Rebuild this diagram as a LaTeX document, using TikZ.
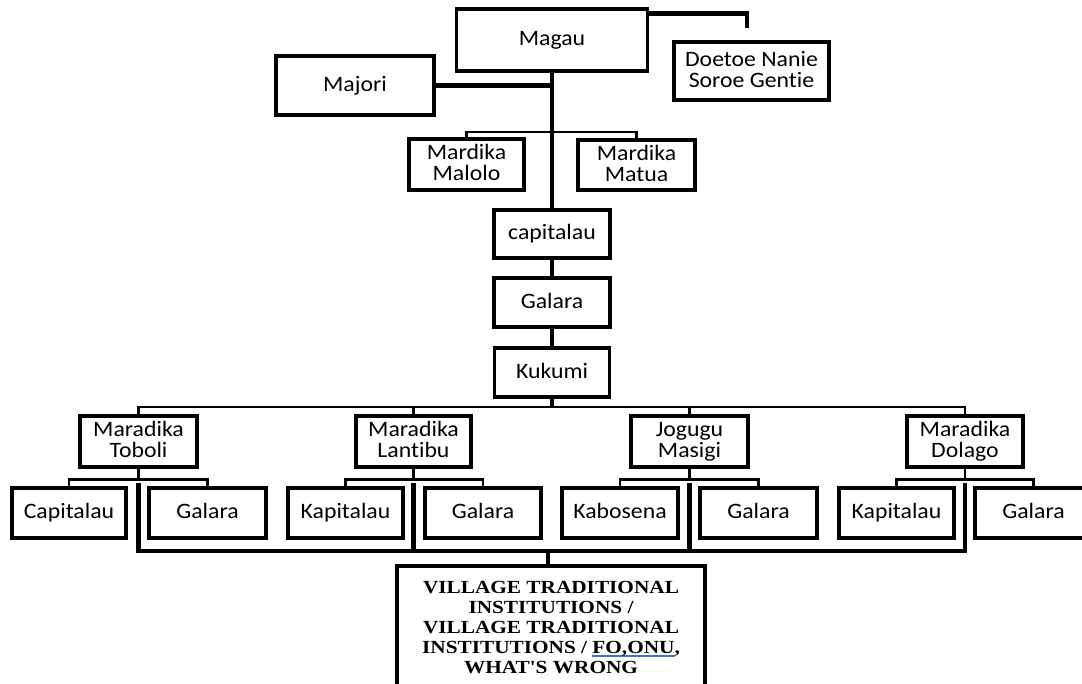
\documentclass[tikz,border=0pt]{standalone}
\usepackage{fontspec}
\setmainfont{Carlito}
\newfontfamily\boxfamily[FakeStretch=1.08,Ligatures=NoCommon]{Carlito}
\newfontfamily\villfamily[FakeStretch=1.15]{Liberation Serif}
\definecolor{ulblue}{RGB}{70,110,200}
\newcommand{\blueul}[1]{\setbox0\hbox{#1}\rlap{\color{ulblue}\rule[-3pt]{\wd0}{1.3pt}}\box0}
\tikzset{
  box/.style 2 args={draw, line width=3.5pt, inner sep=0pt, align=center,
    minimum width=#1pt, minimum height=#2pt,
    font=\boxfamily\fontsize{22}{21}\selectfont,
    execute at begin node={\vphantom{Ag}},
    execute at end node={\vphantom{g}}},
  thinline/.style={line width=2.6pt},
  midline/.style={line width=3.6pt},
  thickline/.style={line width=4.6pt},
}
\begin{document}
\begin{tikzpicture}[x=1pt,y=-1pt]
\useasboundingbox (0,0) rectangle (1082,683);
\clip (0,0) rectangle (1082,683);
% top
\node[box={191}{62}] (magau) at (552,40) {Magau};
\node[box={155}{58}] (doetoe) at (751.5,71) {Doetoe Nanie\\Soroe Gentie};
\node[box={158}{59}] (majori) at (355,85.5) {Majori};
\node[box={115}{51}] (malolo) at (466.5,164.5) {Mardika\\Malolo};
\node[box={117}{50}] (matua) at (636.5,165) {Mardika\\Matua};
\node[box={116}{48}] (capitalau) at (552,234) {capitalau};
\node[box={116}{49}] (galara) at (552,302.5) {Galara};
\node[box={115}{49}] (kukumi) at (552,372.5) {Kukumi};
% level 2
\node[box={117}{51}] (toboli) at (138.5,441.5) {Maradika\\Toboli};
\node[box={115}{51}] (lantibu) at (413.5,441.5) {Maradika\\Lantibu};
\node[box={117}{51}] (jogugu) at (689.5,441.5) {Jogugu\\Masigi};
\node[box={116}{51}] (dolago) at (965,441.5) {Maradika\\Dolago};
% level 3
\node[box={114}{50}] (capT) at (69,513) {Capitalau};
\node[box={117}{50}] (galT) at (207.5,513) {Galara};
\node[box={115}{50}] (kapL) at (345.5,513) {Kapitalau};
\node[box={116}{50}] (galL) at (483,513) {Galara};
\node[box={116}{50}] (kabM) at (620,513) {Kabosena};
\node[box={117}{50}] (galM) at (758.5,513) {Galara};
\node[box={115}{50}] (kapD) at (896.5,513) {Kapitalau};
\node[box={117}{50}] (galD) at (1033.5,513) {Galara};
% bottom
\node[draw, line width=3.5pt, inner sep=0pt, minimum width=308pt, minimum height=124pt,
  anchor=north, align=center, font=\villfamily\bfseries\fontsize{18.5}{20}\selectfont]
  (village) at (551,564) {VILLAGE TRADITIONAL\\INSTITUTIONS /\\VILLAGE TRADITIONAL\\INSTITUTIONS / \blueul{FO,ONU},\\WHAT'S WRONG};
% coordinates
\coordinate (dtend) at (747,28);
\coordinate (mbus) at (552,132);
\coordinate (lbus) at (552,407);
\coordinate (bbus) at (548,551);
% top connectors
\draw[thickline] ([yshift=-6pt]magau.north east) -| (dtend);
\draw[thickline] (majori.east) -- (majori.east -| magau.south);
\draw[thickline] (magau.south) -- (capitalau.north);
\draw[thinline] (malolo.north) |- (mbus) -| (matua.north);
\draw[midline] (capitalau.south) -- (galara.north);
\draw[midline] (galara.south) -- (kukumi.north);
\draw[midline] (kukumi.south) -- (lbus);
% level bus
\draw[thinline] (toboli.north) |- (lbus) -| (dolago.north);
\draw[thinline] (lantibu.north) -- (lantibu.north |- lbus);
\draw[thinline] (jogugu.north) -- (jogugu.north |- lbus);
% small buses
\draw[thinline] (toboli.south) -- ++(0,11) coordinate (tb);
\draw[thinline] (capT.north) |- (tb) -| (galT.north);
\draw[thinline] (lantibu.south) -- ++(0,11) coordinate (lb);
\draw[thinline] (kapL.north) |- (lb) -| (galL.north);
\draw[thinline] (jogugu.south) -- ++(0,11) coordinate (jb);
\draw[thinline] (kabM.north) |- (jb) -| (galM.north);
\draw[thinline] (dolago.south) -- ++(0,11) coordinate (db);
\draw[thinline] (kapD.north) |- (db) -| (galD.north);
% thick verticals and bottom bus
\draw[thickline] ([yshift=-3pt]tb) -- (tb |- bbus);
\draw[thickline] ([yshift=-3pt]lb) -- (lb |- bbus);
\draw[thickline] ([yshift=-3pt]jb) -- (jb |- bbus);
\draw[thickline] ([yshift=-3pt]db) -- (db |- bbus);
\draw[thickline] ([xshift=-2.3pt]tb |- bbus) -- ([xshift=2.3pt]db |- bbus);
\draw[thickline] (bbus) -- (bbus |- village.north);
\end{tikzpicture}
\end{document}
